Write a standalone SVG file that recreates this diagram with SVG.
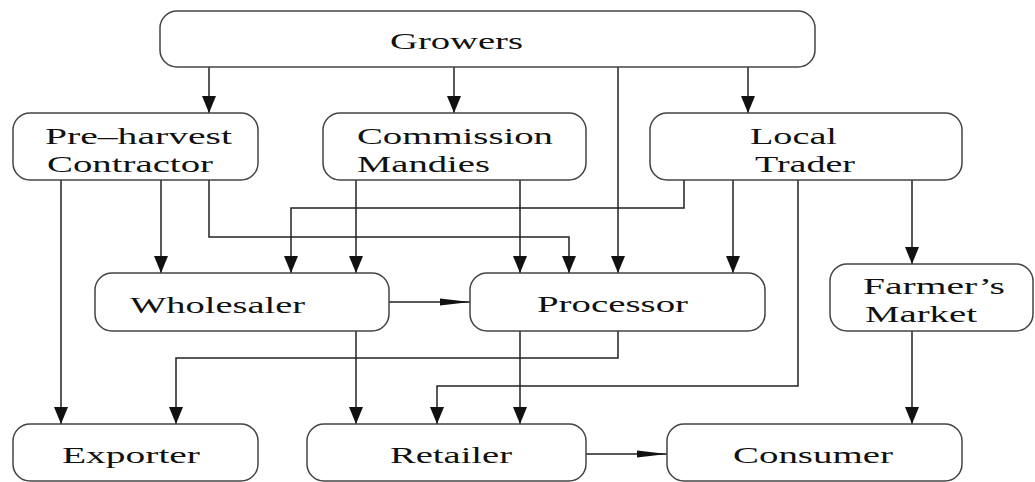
<svg xmlns="http://www.w3.org/2000/svg" width="1035" height="482" viewBox="0 0 1035 482">
<style>
.box{fill:#fff;stroke:#444;stroke-width:1.5}
.t{font-family:"Liberation Serif","Times New Roman",serif;font-size:24px;fill:#111}
.c{fill:none;stroke:#222;stroke-width:1.5}
.v{marker-end:url(#av)}
.h{marker-end:url(#ah)}
</style>
<defs>
<marker id="av" markerUnits="userSpaceOnUse" markerWidth="17" markerHeight="14" refX="17" refY="7" orient="auto" viewBox="0 0 17 14">
<path d="M0,0 L17,7 L0,14 Z" fill="#111"/>
</marker>
<marker id="ah" markerUnits="userSpaceOnUse" markerWidth="30" markerHeight="9" refX="30" refY="4.5" orient="auto" viewBox="0 0 30 9">
<path d="M0,1 L30,4.5 L0,8 Z" fill="#111"/>
</marker>
</defs>
<g id="connectors">
<path class="c v" d="M209,67 V113"/>
<path class="c v" d="M454,67 V113"/>
<path class="c v" d="M618,67 V273"/>
<path class="c v" d="M748,67 V113"/>
<path class="c v" d="M61,180 V424"/>
<path class="c v" d="M161,180 V273"/>
<path class="c v" d="M209,180 V237 H569 V273"/>
<path class="c v" d="M356,180 V273"/>
<path class="c v" d="M520,180 V273"/>
<path class="c v" d="M684,180 V208 H291 V273"/>
<path class="c v" d="M733,180 V273"/>
<path class="c v" d="M798,180 V386 H437 V424"/>
<path class="c v" d="M912,180 V264"/>
<path class="c h" d="M389,302 H470"/>
<path class="c v" d="M356,331 V424"/>
<path class="c v" d="M520,331 V424"/>
<path class="c v" d="M618,331 V358 H176 V424"/>
<path class="c v" d="M912,331 V424"/>
<path class="c h" d="M586,454 H667"/>
</g>
<g id="growers">
<rect class="box" x="160" y="11" width="655" height="56" rx="17"/>
<text class="t" x="390" y="49" textLength="133" lengthAdjust="spacingAndGlyphs">Growers</text>
</g>
<g id="preharvest">
<rect class="box" x="13" y="113" width="245" height="67" rx="17"/>
<text class="t" x="45" y="144" textLength="187" lengthAdjust="spacingAndGlyphs">Pre–harvest</text>
<text class="t" x="47" y="172" textLength="166" lengthAdjust="spacingAndGlyphs">Contractor</text>
</g>
<g id="commission">
<rect class="box" x="323" y="113" width="263" height="67" rx="17"/>
<text class="t" x="357" y="144" textLength="196" lengthAdjust="spacingAndGlyphs">Commission</text>
<text class="t" x="357" y="172" textLength="133" lengthAdjust="spacingAndGlyphs">Mandies</text>
</g>
<g id="localtrader">
<rect class="box" x="650" y="113" width="312" height="67" rx="17"/>
<text class="t" x="750" y="144" textLength="87" lengthAdjust="spacingAndGlyphs">Local</text>
<text class="t" x="755" y="172" textLength="100" lengthAdjust="spacingAndGlyphs">Trader</text>
</g>
<g id="wholesaler">
<rect class="box" x="95" y="273" width="294" height="58" rx="17"/>
<text class="t" x="130" y="313" textLength="175" lengthAdjust="spacingAndGlyphs">Wholesaler</text>
</g>
<g id="processor">
<rect class="box" x="470" y="273" width="295" height="58" rx="17"/>
<text class="t" x="537" y="312" textLength="151" lengthAdjust="spacingAndGlyphs">Processor</text>
</g>
<g id="farmersmarket">
<rect class="box" x="830" y="264" width="203" height="67" rx="17"/>
<text class="t" x="863" y="294" textLength="142" lengthAdjust="spacingAndGlyphs">Farmer’s</text>
<text class="t" x="865" y="322" textLength="112" lengthAdjust="spacingAndGlyphs">Market</text>
</g>
<g id="exporter">
<rect class="box" x="13" y="424" width="245" height="57" rx="17"/>
<text class="t" x="62" y="463" textLength="138" lengthAdjust="spacingAndGlyphs">Exporter</text>
</g>
<g id="retailer">
<rect class="box" x="307" y="424" width="279" height="57" rx="17"/>
<text class="t" x="390" y="463" textLength="122" lengthAdjust="spacingAndGlyphs">Retailer</text>
</g>
<g id="consumer">
<rect class="box" x="667" y="424" width="295" height="57" rx="17"/>
<text class="t" x="733" y="463" textLength="160" lengthAdjust="spacingAndGlyphs">Consumer</text>
</g>
</svg>
